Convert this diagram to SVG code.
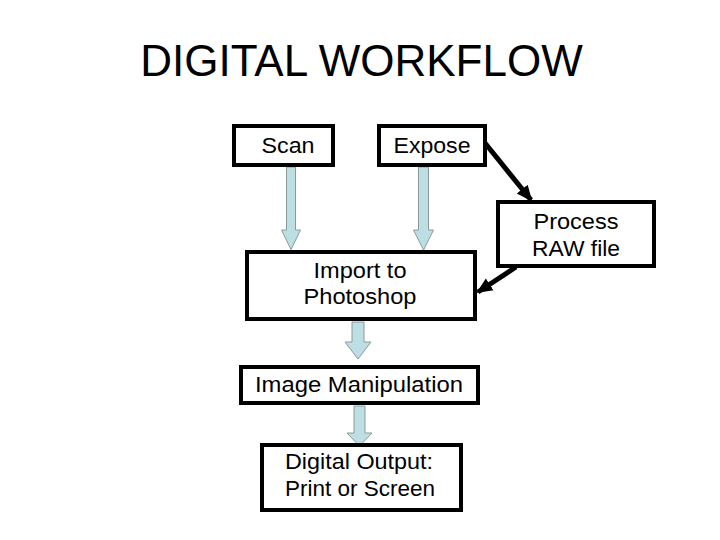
<svg xmlns="http://www.w3.org/2000/svg" width="720" height="540" viewBox="0 0 720 540">
<style>
.box{fill:#fff;stroke:#000;stroke-width:4}
.t{font-family:"Liberation Sans",Arial,sans-serif;font-size:22px;fill:#000;text-anchor:middle}
.title{font-family:"Liberation Sans",Arial,sans-serif;font-size:44px;fill:#000;text-anchor:middle}
.blk{fill:#bddfe3;stroke:#8a9a9c;stroke-width:1}
.con{fill:none;stroke:#000;stroke-width:5}
</style>
<defs>
<marker id="ah" markerUnits="userSpaceOnUse" markerWidth="16" markerHeight="16" viewBox="0 0 16 16" refX="14" refY="8" orient="auto">
<path d="M0,1 L16,8 L0,15 Z" fill="#000"/>
</marker>
</defs>
<rect width="720" height="540" fill="#fff"/>
<text class="title" x="361.5" y="76">DIGITAL WORKFLOW</text>
<g id="connectors">
<path class="blk" d="M286.5,167 H295.5 V230 H300.5 L291,249.5 L281.5,230 H286.5 Z"/>
<path class="blk" d="M418.5,167 H428.5 V230 H433.5 L423.5,250 L413.5,230 H418.5 Z"/>
<path class="blk" d="M352,322 H364 V342 H371 L358,359 L345,342 H352 Z"/>
<path class="blk" d="M354,406 H365 V433 H372 L359.5,446 L347,433 H354 Z"/>
<line class="con" x1="485" y1="143" x2="531" y2="200" marker-end="url(#ah)"/>
<line class="con" x1="516" y1="267" x2="478" y2="292" marker-end="url(#ah)"/>
</g>
<g id="scan">
<rect class="box" x="234" y="126" width="99" height="39"/>
<text class="t" x="288" y="153" textLength="53" lengthAdjust="spacingAndGlyphs">Scan</text>
</g>
<g id="expose">
<rect class="box" x="379" y="126" width="106" height="39"/>
<text class="t" x="432" y="153" textLength="77" lengthAdjust="spacingAndGlyphs">Expose</text>
</g>
<g id="process">
<rect class="box" x="498" y="202" width="156" height="64"/>
<text class="t" x="576" y="229" textLength="85" lengthAdjust="spacingAndGlyphs">Process</text>
<text class="t" x="576" y="256" textLength="88" lengthAdjust="spacingAndGlyphs">RAW file</text>
</g>
<g id="import">
<rect class="box" x="247" y="252" width="228" height="67"/>
<text class="t" x="360" y="278" textLength="93" lengthAdjust="spacingAndGlyphs">Import to</text>
<text class="t" x="360" y="304" textLength="113" lengthAdjust="spacingAndGlyphs">Photoshop</text>
</g>
<g id="manip">
<rect class="box" x="241" y="367" width="237" height="36"/>
<text class="t" x="359" y="392" textLength="208" lengthAdjust="spacingAndGlyphs">Image Manipulation</text>
</g>
<g id="output">
<rect class="box" x="262" y="445" width="199" height="65"/>
<text class="t" x="359" y="469" textLength="148" lengthAdjust="spacingAndGlyphs">Digital Output:</text>
<text class="t" x="360" y="496" textLength="150" lengthAdjust="spacingAndGlyphs">Print or Screen</text>
</g>
</svg>
